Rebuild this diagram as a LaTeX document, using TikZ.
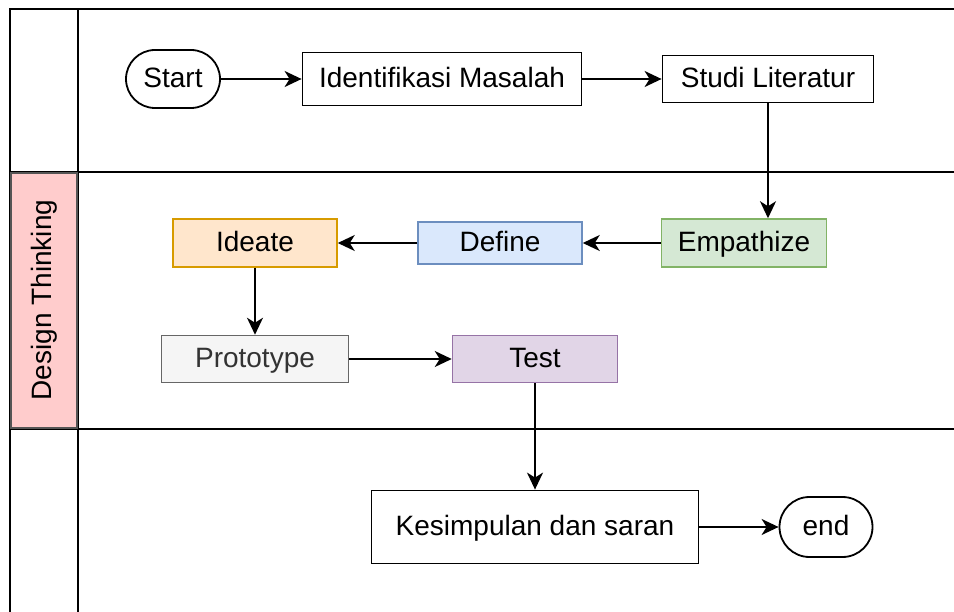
\documentclass[tikz,border=0pt]{standalone}
\usepackage{fontspec}
\setmainfont{Liberation Sans}
\usetikzlibrary{arrows.meta}

\begin{document}
\begin{tikzpicture}[x=1pt, y=-1pt,
    box/.style={draw=borderColour, line width=1.8pt, inner sep=0pt, text height=20pt, text depth=3pt, font=\fontsize{28}{32}\selectfont},
    terminal/.style={box, rounded corners=29pt},
    phase/.style={box, line width=1.5pt},
    lane/.style={draw=borderColour, line width=2pt},
    flow/.style={line width=1.8pt, -{Stealth[length=17pt, width=16pt, inset=5pt]}}]
    \definecolor{borderColour}{HTML}{000000}
    \definecolor{laneFill}{HTML}{FFCCCC}
    \definecolor{laneBorder}{HTML}{555555}
    \definecolor{ideateFill}{HTML}{FFE6CC}
    \definecolor{ideateBorder}{HTML}{D79B00}
    \definecolor{defineFill}{HTML}{DAE8FC}
    \definecolor{defineBorder}{HTML}{6C8EBF}
    \definecolor{empathFill}{HTML}{D5E8D4}
    \definecolor{empathBorder}{HTML}{82B366}
    \definecolor{protoFill}{HTML}{F5F5F5}
    \definecolor{protoBorder}{HTML}{666666}
    \definecolor{protoText}{HTML}{333333}
    \definecolor{testFill}{HTML}{E1D5E7}
    \definecolor{testBorder}{HTML}{9673A6}

    \def\frameLeft{10}
    \def\frameRight{954}
    \def\headerRight{78}

    \useasboundingbox (0,0) rectangle (954,612);

    % Draw swimlanes
    \fill[laneFill] (\frameLeft,172) rectangle (\headerRight,429);
    \draw[lane] (\frameLeft,612) -- (\frameLeft,9) -- (\frameRight,9);
    \draw[lane] (\headerRight,9) -- (\headerRight,612);
    \draw[lane] (\frameLeft,172) -- (\frameRight,172);
    \draw[lane] (\frameLeft,429) -- (\frameRight,429);
    \draw[draw=laneBorder, line width=1.5pt] (\frameLeft+1,173) rectangle (\headerRight-1,428);
    \node[rotate=90, font=\fontsize{28}{32}\selectfont] (lanelabel) at (44,300) {Design Thinking};

    % First lane
    \node[terminal, minimum width=94pt, minimum height=58pt] (start) at (173,79) {Start};
    \node[box, minimum width=279pt, minimum height=53pt] (ident) at (442,79) {Identifikasi Masalah};
    \node[box, minimum width=211pt, minimum height=47pt] (studi) at (768,79) {Studi Literatur};

    % Design Thinking lane
    \node[phase, fill=empathFill, draw=empathBorder, minimum width=165pt, minimum height=48pt] (empathize) at (744,243) {Empathize};
    \node[phase, fill=defineFill, draw=defineBorder, minimum width=164pt, minimum height=42pt] (define) at (500,243) {Define};
    \node[phase, fill=ideateFill, draw=ideateBorder, minimum width=164pt, minimum height=48pt] (ideate) at (255,243) {Ideate};
    \node[phase, fill=protoFill, draw=protoBorder, text=protoText, minimum width=187pt, minimum height=47pt] (prototype) at (255,359) {Prototype};
    \node[phase, fill=testFill, draw=testBorder, minimum width=165pt, minimum height=47pt] (test) at (535,359) {Test};

    % Last lane
    \node[box, minimum width=327pt, minimum height=73pt] (kesimpulan) at (535,527) {Kesimpulan dan saran};
    \node[terminal, rounded corners=30pt, minimum width=93pt, minimum height=60pt] (end) at (826,527) {end};

    % Connectors
    \draw[flow] (start) -- (ident);
    \draw[flow] (ident) -- (studi);
    \draw[flow] (studi.south) -- (studi.south |- empathize.north);
    \draw[flow] (empathize) -- (define);
    \draw[flow] (define) -- (ideate);
    \draw[flow] (ideate) -- (prototype);
    \draw[flow] (prototype) -- (test);
    \draw[flow] (test) -- (kesimpulan);
    \draw[flow] (kesimpulan) -- (end);

\end{tikzpicture}
\end{document}
